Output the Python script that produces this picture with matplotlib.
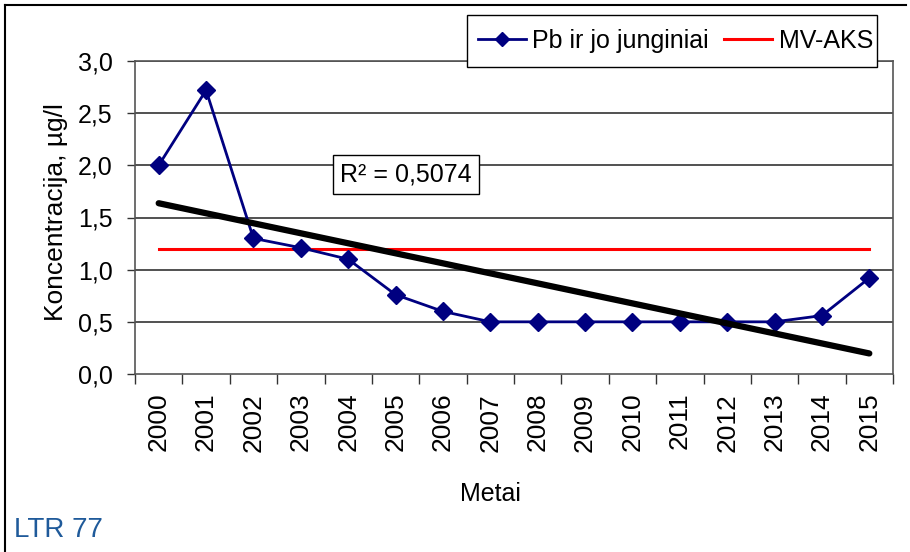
import numpy as np
import matplotlib
matplotlib.use("Agg")
import matplotlib.pyplot as plt
from matplotlib.lines import Line2D
from matplotlib.patches import Rectangle

years = ["2000", "2001", "2002", "2003", "2004", "2005", "2006", "2007",
         "2008", "2009", "2010", "2011", "2012", "2013", "2014", "2015"]
pb_values = [2.0, 2.72, 1.3, 1.21, 1.1, 0.76, 0.6, 0.5,
             0.5, 0.5, 0.5, 0.5, 0.5, 0.5, 0.56, 0.92]
mv_aks = 1.2
y_ticks = [0.0, 0.5, 1.0, 1.5, 2.0, 2.5, 3.0]
y_tick_labels = ["0,0", "0,5", "1,0", "1,5", "2,0", "2,5", "3,0"]
r2_text = "R² = 0,5074"

plt.rcParams['font.family'] = ['Liberation Sans', 'DejaVu Sans']

W, H = 910, 552
fig = plt.figure(figsize=(W / 100, H / 100), dpi=100)

def fx(px):
    return px / W

def fy(py):
    return 1 - py / H

left, right, top, bottom = 135, 893, 61, 374
ax = fig.add_axes([fx(left), fy(bottom), fx(right - left), (bottom - top) / H])

x = np.arange(len(years))
ax.set_xlim(-0.5, len(years) - 0.5)
ax.set_ylim(0, 3.0)

for yv in y_ticks[1:]:
    ax.axhline(yv, color="#222222", lw=1.1, zorder=1)

ax.plot([x[0], x[-1]], [mv_aks, mv_aks], color="#FF0000", lw=2.2, zorder=2, label="MV-AKS")
ax.plot(x, pb_values, color="#000080", lw=2.0, marker="D", markersize=9,
        markerfacecolor="#000080", markeredgecolor="#000080", zorder=3,
        label="Pb ir jo junginiai")

coef = np.polyfit(x, pb_values, 1)
ax.plot([x[0], x[-1]], np.polyval(coef, [x[0], x[-1]]), color="black", lw=4.5,
        solid_capstyle="round", zorder=4)

ax.set_yticks(y_ticks)
ax.set_yticklabels(y_tick_labels, fontsize=18)
ax.tick_params(axis="y", length=6, width=1, color="#333333", pad=10)

ax.set_xticks(x)
ax.set_xticklabels(years, rotation=90, fontsize=19)
ax.set_xticks(np.arange(-0.5, len(years)), minor=True)
ax.tick_params(axis="x", which="major", length=0, pad=13.5)
ax.tick_params(axis="x", which="minor", length=7, width=1, color="#333333")

for side in ["left", "right", "top", "bottom"]:
    ax.spines[side].set_color("#555555")
    ax.spines[side].set_linewidth(1.2)

fig.text(fx(56), fy(212), "Koncentracija, µg/l", rotation=90, fontsize=19,
         ha="center", va="center")
fig.text(fx(490), fy(494), "Metai", fontsize=18, ha="center", va="center")
fig.text(fx(14), fy(530), "LTR 77", fontsize=20, ha="left", va="center",
         color="#1F5A9A")

# R² box
fig.text(fx(406), fy(174), r2_text, fontsize=18, ha="center", va="center",
         bbox=dict(boxstyle="square,pad=0.3", fc="white", ec="black", lw=1.0),
         zorder=10)

# legend: frame drawn separately, entries placed inside
fig.add_artist(Rectangle((fx(467), fy(67)), fx(877 - 467), (67 - 15) / H,
                         transform=fig.transFigure, fc="white", ec="black",
                         lw=1.0, zorder=5))
handles, labels = ax.get_legend_handles_labels()
leg = fig.legend(handles[::-1], labels[::-1], loc="center left",
                 bbox_to_anchor=(fx(478), fy(41)), ncol=2, fontsize=18,
                 frameon=False, borderaxespad=0, borderpad=0, markerscale=0.75,
                 handlelength=1.9, columnspacing=0.6, handletextpad=0.28)
leg.set_zorder(6)

# outer border
fig.add_artist(Line2D([fx(5), fx(906)], [fy(5), fy(5)], color="black", lw=1.5))
fig.add_artist(Line2D([fx(5), fx(5)], [fy(5), 0], color="black", lw=1.5))

fig.savefig("out.png", dpi=100)
